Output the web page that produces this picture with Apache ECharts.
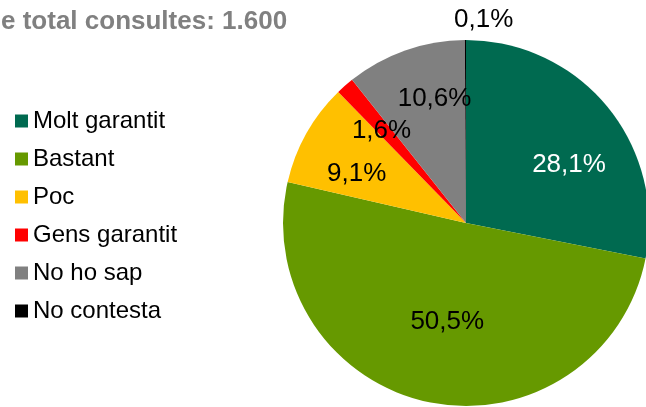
<!DOCTYPE html>
<html style="height: 100%">

<head>
  <meta charset="utf-8">
</head>

<body style="height: 100%; margin: 0; background: #fff">
  <div id="container" style="width: 646px; height: 407px"></div>
  <script type="text/javascript" src="https://cdn.jsdelivr.net/npm/echarts@6/dist/echarts.min.js"></script>
  <script type="text/javascript">
    var categories = ['Molt garantit', 'Bastant', 'Poc', 'Gens garantit', 'No ho sap', 'No contesta'];
    var values = [28.1, 50.5, 9.1, 1.6, 10.6, 0.1];
    var colors = ['#006a50', '#669900', '#ffc000', '#ff0000', '#808080', '#000000'];
    var labelColors = ['#ffffff', '#000000', '#000000', '#000000', '#000000', '#000000'];
    // nudges so labels sit where the original put them
    var labelOffsets = [[30, 2], [1, 6], [-27, -3], [-22, -21], [0, -35], [18, -109]];

    var dom = document.getElementById("container");
    var myChart = echarts.init(dom);

    var data = categories.map(function (name, i) {
      return {
        name: name,
        value: values[i],
        itemStyle: { color: colors[i] },
        label: { color: labelColors[i], offset: labelOffsets[i] }
      };
    });

    var option = {
      animation: false,
      title: {
        text: 'e total consultes: 1.600',
        left: -4,
        top: 4,
        textStyle: {
          fontFamily: 'Liberation Sans',
          fontWeight: 'bold',
          fontSize: 26,
          color: '#808080'
        }
      },
      legend: {
        orient: 'vertical',
        left: 10,
        top: 104,
        icon: 'rect',
        itemWidth: 13,
        itemHeight: 13,
        itemGap: 14,
        selectedMode: false,
        data: categories,
        textStyle: {
          fontFamily: 'Liberation Sans',
          fontSize: 24,
          lineHeight: 24,
          color: '#000'
        }
      },
      series: [{
        type: 'pie',
        center: [466, 223],
        radius: 183,
        startAngle: 90,
        clockwise: true,
        data: data,
        label: {
          show: true,
          position: 'inside',
          fontFamily: 'Liberation Sans',
          fontSize: 26,
          formatter: function (p) {
            return p.value.toFixed(1).replace('.', ',') + '%';
          }
        },
        labelLine: { show: false },
        itemStyle: { borderWidth: 0 },
        emphasis: { disabled: true }
      }]
    };
    myChart.setOption(option);
  </script>
</body>

</html>
